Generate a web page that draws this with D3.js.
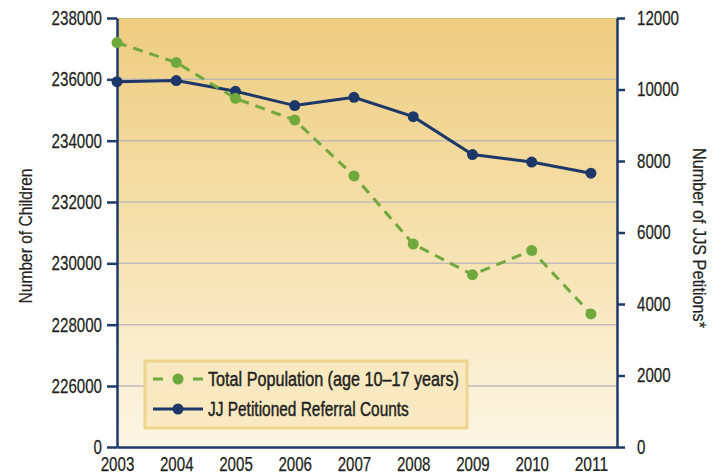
<!DOCTYPE html>
<html>
<head>
<meta charset="utf-8">
<script src="https://cdn.jsdelivr.net/npm/d3@7"></script>
<style>
  html, body { margin: 0; padding: 0; background: #ffffff; }
  svg text { font-family: "Liberation Sans", Arial, sans-serif; fill: #231f20; }
</style>
</head>
<body>
<svg id="chart" width="722" height="474"></svg>
<script>
const years = [2003, 2004, 2005, 2006, 2007, 2008, 2009, 2010, 2011];
const population = [237200, 236550, 235380, 234670, 232850, 230630, 229630, 230420, 228350];
const petitions = [10220, 10250, 9950, 9550, 9780, 9240, 8180, 7970, 7660];
const leftTicks = [0, 226000, 228000, 230000, 232000, 234000, 236000, 238000];
const rightTicks = [0, 2000, 4000, 6000, 8000, 10000, 12000];
const seriesNames = ["Total Population (age 10\u201317 years)", "JJ Petitioned Referral Counts"];
const axisTitles = ["Number of Children", "Number of JJS Petitions*"];

const svg = d3.select("#chart");
const L = 117, R = 617, T = 18, B = 447;
const navy = "#1c3768", green = "#6fa83c", axisCol = "#1e3a6a";
const digitW = 8.4;

// horizontally squeeze a text around its own anchor point
function squeeze(node, width) {
  const len = node.getComputedTextLength();
  if (!len) return;
  const sx = width / len;
  const x0 = +(node.getAttribute("x") || 0);
  const old = node.getAttribute("transform") || "";
  node.setAttribute("transform", `${old} translate(${x0},0) scale(${sx},1) translate(${-x0},0)`);
}

const x = d3.scaleLinear().domain([2003, 2011.44]).range([L, R]);
const yL = d3.scaleLinear().domain([0, 226000, 238000]).range([B, 386, T]);
const yR = d3.scaleLinear().domain([0, 12000]).range([B, T]);

// background gradient
const defs = svg.append("defs");
const grad = defs.append("linearGradient").attr("id", "bg").attr("x1", 0).attr("y1", 0).attr("x2", 0).attr("y2", 1);
grad.append("stop").attr("offset", "0%").attr("stop-color", "#edcc80");
grad.append("stop").attr("offset", "50%").attr("stop-color", "#f5e1ad");
grad.append("stop").attr("offset", "100%").attr("stop-color", "#fdf6e6");
svg.append("rect").attr("x", L).attr("y", T).attr("width", R - L).attr("height", B - T).attr("fill", "url(#bg)");
svg.append("line").attr("x1", L).attr("x2", R).attr("y1", T + 0.5).attr("y2", T + 0.5).attr("stroke", "#d9bd78").attr("stroke-width", 1);

// gridlines
svg.append("g").selectAll("line").data(leftTicks.filter(d => d >= 226000 && d < 238000)).join("line")
  .attr("x1", L).attr("x2", R).attr("y1", d => yL(d)).attr("y2", d => yL(d))
  .attr("stroke", "#c2bab6").attr("stroke-width", 1.5);

// axes
function styleAxis(g, size) {
  g.attr("font-size", size).attr("font-family", '"Liberation Sans", Arial, sans-serif');
  g.selectAll("path.domain").attr("stroke", axisCol).attr("stroke-width", 2.5);
  g.selectAll(".tick line").attr("stroke", axisCol).attr("stroke-width", 2.5);
  g.selectAll("text").attr("font-size", size).attr("fill", "#231f20")
    .attr("stroke", "#231f20").attr("stroke-width", 0.25)
    .each(function () { squeeze(this, this.textContent.length * digitW); });
}
svg.append("g").attr("transform", `translate(0,${B})`)
  .call(d3.axisBottom(x).tickValues(years).tickFormat(d3.format("d")).tickSize(0).tickPadding(10))
  .call(styleAxis, 19.5);
svg.append("g").attr("transform", `translate(${L},0)`)
  .call(d3.axisLeft(yL).tickValues(leftTicks).tickFormat(d3.format("d")).tickSize(10).tickSizeOuter(0).tickPadding(5))
  .call(styleAxis, 20);
svg.append("g").attr("transform", `translate(${R},0)`)
  .call(d3.axisRight(yR).tickValues(rightTicks).tickFormat(d3.format("d")).tickSize(8).tickSizeOuter(0).tickPadding(12))
  .call(styleAxis, 20);

// axis titles
svg.append("text").attr("transform", "translate(32,236) rotate(-90)").attr("text-anchor", "middle")
  .attr("font-size", 18.5).attr("stroke", "#231f20").attr("stroke-width", 0.2)
  .text(axisTitles[0]).each(function () { squeeze(this, 135); });
svg.append("text").attr("transform", "translate(693,238) rotate(90)").attr("text-anchor", "middle")
  .attr("font-size", 18.5).attr("stroke", "#231f20").attr("stroke-width", 0.2)
  .text(axisTitles[1]).each(function () { squeeze(this, 180); });

// blue series (right axis)
const lineR = d3.line().x((d, i) => x(years[i])).y(d => yR(d));
svg.append("path").datum(petitions).attr("d", lineR).attr("fill", "none")
  .attr("stroke", navy).attr("stroke-width", 3);
svg.append("g").selectAll("circle").data(petitions).join("circle")
  .attr("cx", (d, i) => x(years[i])).attr("cy", d => yR(d)).attr("r", 5.5).attr("fill", navy);

// green series (left axis)
const lineL = d3.line().x((d, i) => x(years[i])).y(d => yL(d));
svg.append("path").datum(population).attr("d", lineL).attr("fill", "none")
  .attr("stroke", green).attr("stroke-width", 3).attr("stroke-dasharray", "10,7");
svg.append("g").selectAll("circle").data(population).join("circle")
  .attr("cx", (d, i) => x(years[i])).attr("cy", d => yL(d)).attr("r", 5.5).attr("fill", green);

// legend
const lg = svg.append("g");
lg.append("rect").attr("x", 145).attr("y", 361).attr("width", 322).attr("height", 67)
  .attr("fill", "#f7e8bf").attr("fill-opacity", 0.92).attr("stroke", "#eed48c").attr("stroke-width", 3);
lg.append("line").attr("x1", 153).attr("x2", 203).attr("y1", 379).attr("y2", 379)
  .attr("stroke", green).attr("stroke-width", 3).attr("stroke-dasharray", "10,30");
lg.append("circle").attr("cx", 178).attr("cy", 379).attr("r", 5.5).attr("fill", green);
lg.append("line").attr("x1", 153).attr("x2", 203).attr("y1", 409).attr("y2", 409)
  .attr("stroke", navy).attr("stroke-width", 3);
lg.append("circle").attr("cx", 178).attr("cy", 409).attr("r", 5.5).attr("fill", navy);
const legendWidths = [251, 201];
lg.selectAll("text.lt").data(seriesNames).join("text").attr("class", "lt")
  .attr("x", 208).attr("y", (d, i) => 386 + i * 30).attr("font-size", 20)
  .attr("stroke", "#231f20").attr("stroke-width", 0.45)
  .text(d => d)
  .each(function (d, i) { squeeze(this, legendWidths[i]); });
</script>
</body>
</html>
